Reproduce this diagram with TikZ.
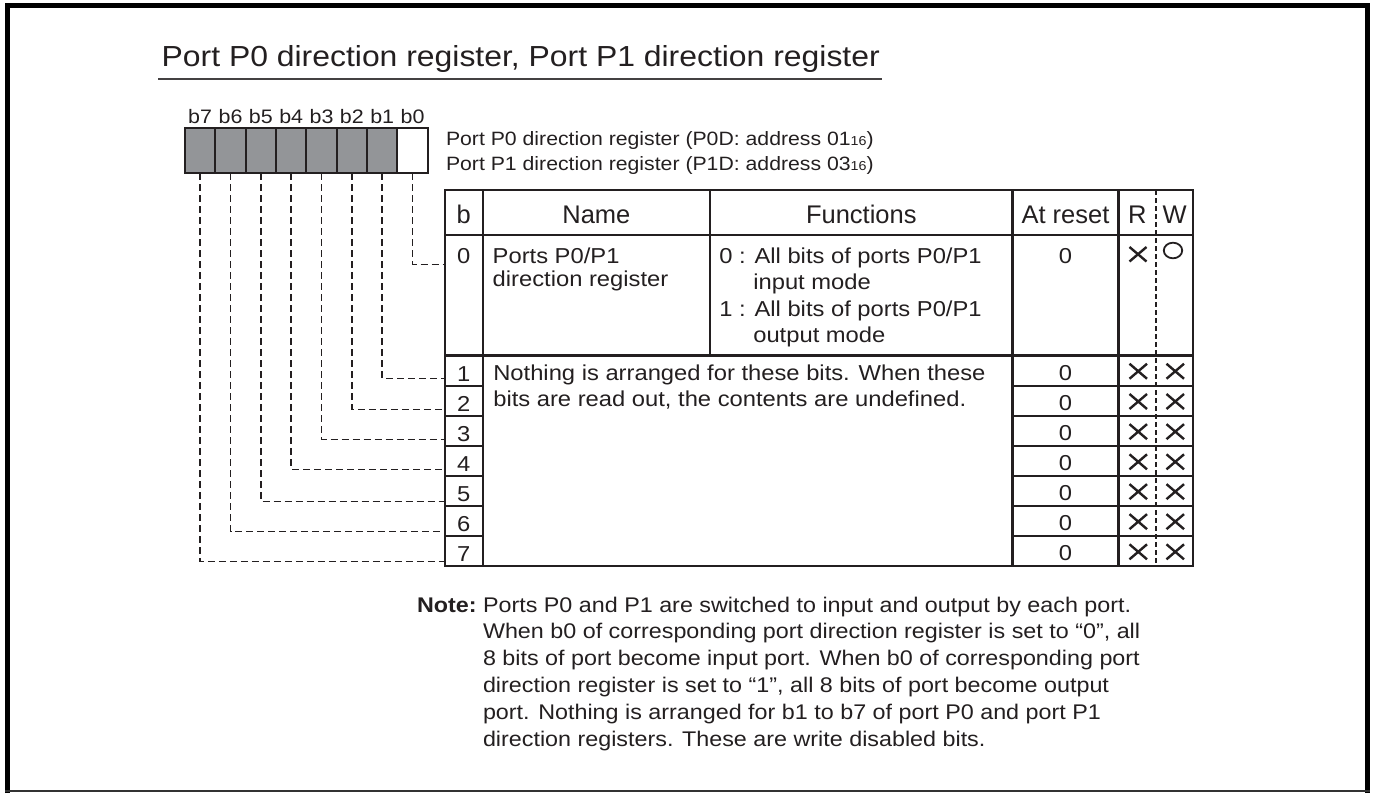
\documentclass[tikz,border=0pt]{standalone}
\usepackage{fontspec}
\setmainfont{Liberation Sans}[FakeStretch=1.1]
\newfontfamily\hdrfam{Liberation Sans}
\definecolor{ink}{HTML}{231F20}
\definecolor{bitgray}{HTML}{939598}
\newcommand\fTitle{\fontsize{29pt}{34pt}\selectfont}
\newcommand\fAddr{\fontsize{19.3pt}{23pt}\selectfont}
\newcommand\fSub{\fontsize{13pt}{15pt}\selectfont}
\newcommand\fLab{\fontsize{19.5pt}{22pt}\selectfont}
\newcommand\fHdr{\hdrfam\fontsize{25.5pt}{30pt}\selectfont}
\newcommand\fBody{\fontsize{21.6pt}{26pt}\selectfont}
\newcommand\fNote{\fontsize{21.2pt}{26pt}\selectfont}
\begin{document}
\begin{tikzpicture}[x=1pt,y=-1pt,
  tline/.style={draw=ink, line width=2.2pt},
  conn/.style={draw=ink, line width=1.5pt, dash pattern=on 7pt off 4pt},
  rwdash/.style={draw=ink, line width=1.3pt, dash pattern=on 5pt off 3pt},
  bitbox/.style={draw=ink, line width=2pt, minimum width=30.34pt, minimum height=45pt, inner sep=0pt, outer sep=0pt},
  lt/.style={inner sep=0pt, outer sep=0pt, anchor=base west, text=ink},
  ct/.style={inner sep=0pt, outer sep=0pt, anchor=base, text=ink},
  xmark/.style={draw=ink, line width=2.4pt},
  omark/.style={draw=ink, line width=1.8pt}]
\useasboundingbox (0,0) rectangle (1374,793);
% frame
\draw[black, line width=4.8pt] (7.5,793) -- (7.5,5.2) -- (1367.5,5.2) -- (1367.5,793);
\draw[black!80, line width=1.5pt] (5,791) -- (1370,791);
% title
\node[lt, font=\fTitle] (title) at (161.7,66.7) {Port P0 direction register, Port P1 direction register};
\draw[ink!85, line width=1.8pt] (158,79) -- (882,79);
% bit boxes
\foreach \k in {0,...,6} {
  \pgfmathtruncatemacro\b{7-\k}
  \node[bitbox, fill=bitgray] (bit\b) at ({185+30.34*(\k+0.5)},150.8) {};
}
\node[bitbox, fill=white] (bit0) at ({185+30.34*7.5},150.8) {};
\foreach \b in {0,...,7} {
  \node[ct, font=\fLab] (lab\b) at ([yshift=27.5pt]bit\b.center) {b\b};
}
% address
\node[lt, font=\fAddr] (addr0) at (446,145) {Port P0 direction register (P0D: address 01{\fSub 16})};
\node[lt, font=\fAddr] (addr1) at (446,170) {Port P1 direction register (P1D: address 03{\fSub 16})};
% table
\draw[tline] (445,190) rectangle (1193.3,566.3);
\draw[tline] (445,235) -- (1193.3,235);
\draw[tline] (445,355.5) -- (1193.3,355.5);
\draw[tline] (482.7,190) -- (482.7,566.3);
\draw[tline] (710,190) -- (710,355.5);
\draw[tline] (1012.5,190) -- (1012.5,566.3);
\draw[tline] (1118.5,190) -- (1118.5,566.3);
\draw[rwdash] (1156,190) -- (1156,566.3);
\foreach \y in {386,416,446.3,476.3,506,536.3} {
  \draw[tline] (445,\y) -- (482.7,\y);
  \draw[tline] (1012.5,\y) -- (1193.3,\y);
}
% header
\node[ct, font=\fHdr] (hb) at (463.8,223.3) {b};
\node[ct, font=\fHdr] (hname) at (596.4,223.3) {Name};
\node[ct, font=\fHdr] (hfun) at (861.3,223.3) {Functions};
\node[ct, font=\fHdr] (hres) at (1065.5,223.3) {At reset};
\node[ct, font=\fHdr] (hr) at (1137.3,223.3) {R};
\node[ct, font=\fHdr] (hw) at (1174.7,223.3) {W};
% row 0
\node[ct, font=\fBody] (d0) at (463.8,263.3) {0};
\node[lt, font=\fBody] (n0a) at (492.7,263.3) {Ports P0/P1};
\node[lt, font=\fBody] (n0b) at (492.7,286) {direction register};
\node[lt, font=\fBody] (f0a) at (719.3,263.3) {0 : All bits of ports P0/P1};
\node[lt, font=\fBody] (f0b) at (753.3,289.3) {input mode};
\node[lt, font=\fBody] (f0c) at (719.3,316.5) {1 : All bits of ports P0/P1};
\node[lt, font=\fBody] (f0d) at (753.3,342.7) {output mode};
\node[ct, font=\fBody] (r0) at (1065.5,263.3) {0};
\draw[xmark] (1129.5,247) -- (1146.5,261.5) (1129.5,261.5) -- (1146.5,247);
\draw[omark] (1173,250.5) ellipse [x radius=9.2pt, y radius=7.8pt];
% rows 1-7
\node[lt, font=\fBody] (t1a) at (493.3,380.7) {Nothing is arranged for these bits. When these};
\node[lt, font=\fBody] (t1b) at (493.3,406.7) {bits are read out, the contents are undefined.};
\foreach \r/\top/\bot in {1/355.5/386, 2/386/416, 3/416/446.3, 4/446.3/476.3, 5/476.3/506, 6/506/536.3, 7/536.3/566.3} {
  \node[ct, font=\fBody] (d\r) at (463.8,\bot-5) {\r};
  \node[ct, font=\fBody] (r\r) at (1065.5,\bot-5.5) {0};
  \pgfmathsetmacro\cy{(\top+\bot)/2+0.5}
  \draw[xmark] (1129.5,\cy-7.5) -- (1147,\cy+7.5) (1129.5,\cy+7.5) -- (1147,\cy-7.5);
  \draw[xmark] (1166.5,\cy-7.5) -- (1184,\cy+7.5) (1166.5,\cy+7.5) -- (1184,\cy-7.5);
}
% connector endpoints on table edge
\coordinate (e0) at (445,264.3);
\coordinate (e1) at (445,378.3);
\coordinate (e2) at (445,409.3);
\coordinate (e3) at (445,439.3);
\coordinate (e4) at (445,469.3);
\coordinate (e5) at (445,501.5);
\coordinate (e6) at (445,531.7);
\coordinate (e7) at (445,561.7);
\foreach \b in {0,...,7} {
  \draw[conn] (bit\b.south) |- (e\b);
}
% note
\node[lt, font=\fNote\bfseries] (notehd) at (417,612) {Note:};
\node[lt, font=\fNote] (note1) at (483,612) {Ports P0 and P1 are switched to input and output by each port.};
\node[lt, font=\fNote] (note2) at (483,638.8) {When b0 of corresponding port direction register is set to “0”, all};
\node[lt, font=\fNote] (note3) at (483,665.6) {8 bits of port become input port. When b0 of corresponding port};
\node[lt, font=\fNote] (note4) at (483,692.4) {direction register is set to “1”, all 8 bits of port become output};
\node[lt, font=\fNote] (note5) at (483,719.2) {port. Nothing is arranged for b1 to b7 of port P0 and port P1};
\node[lt, font=\fNote] (note6) at (483,746) {direction registers. These are write disabled bits.};
\end{tikzpicture}
\end{document}
